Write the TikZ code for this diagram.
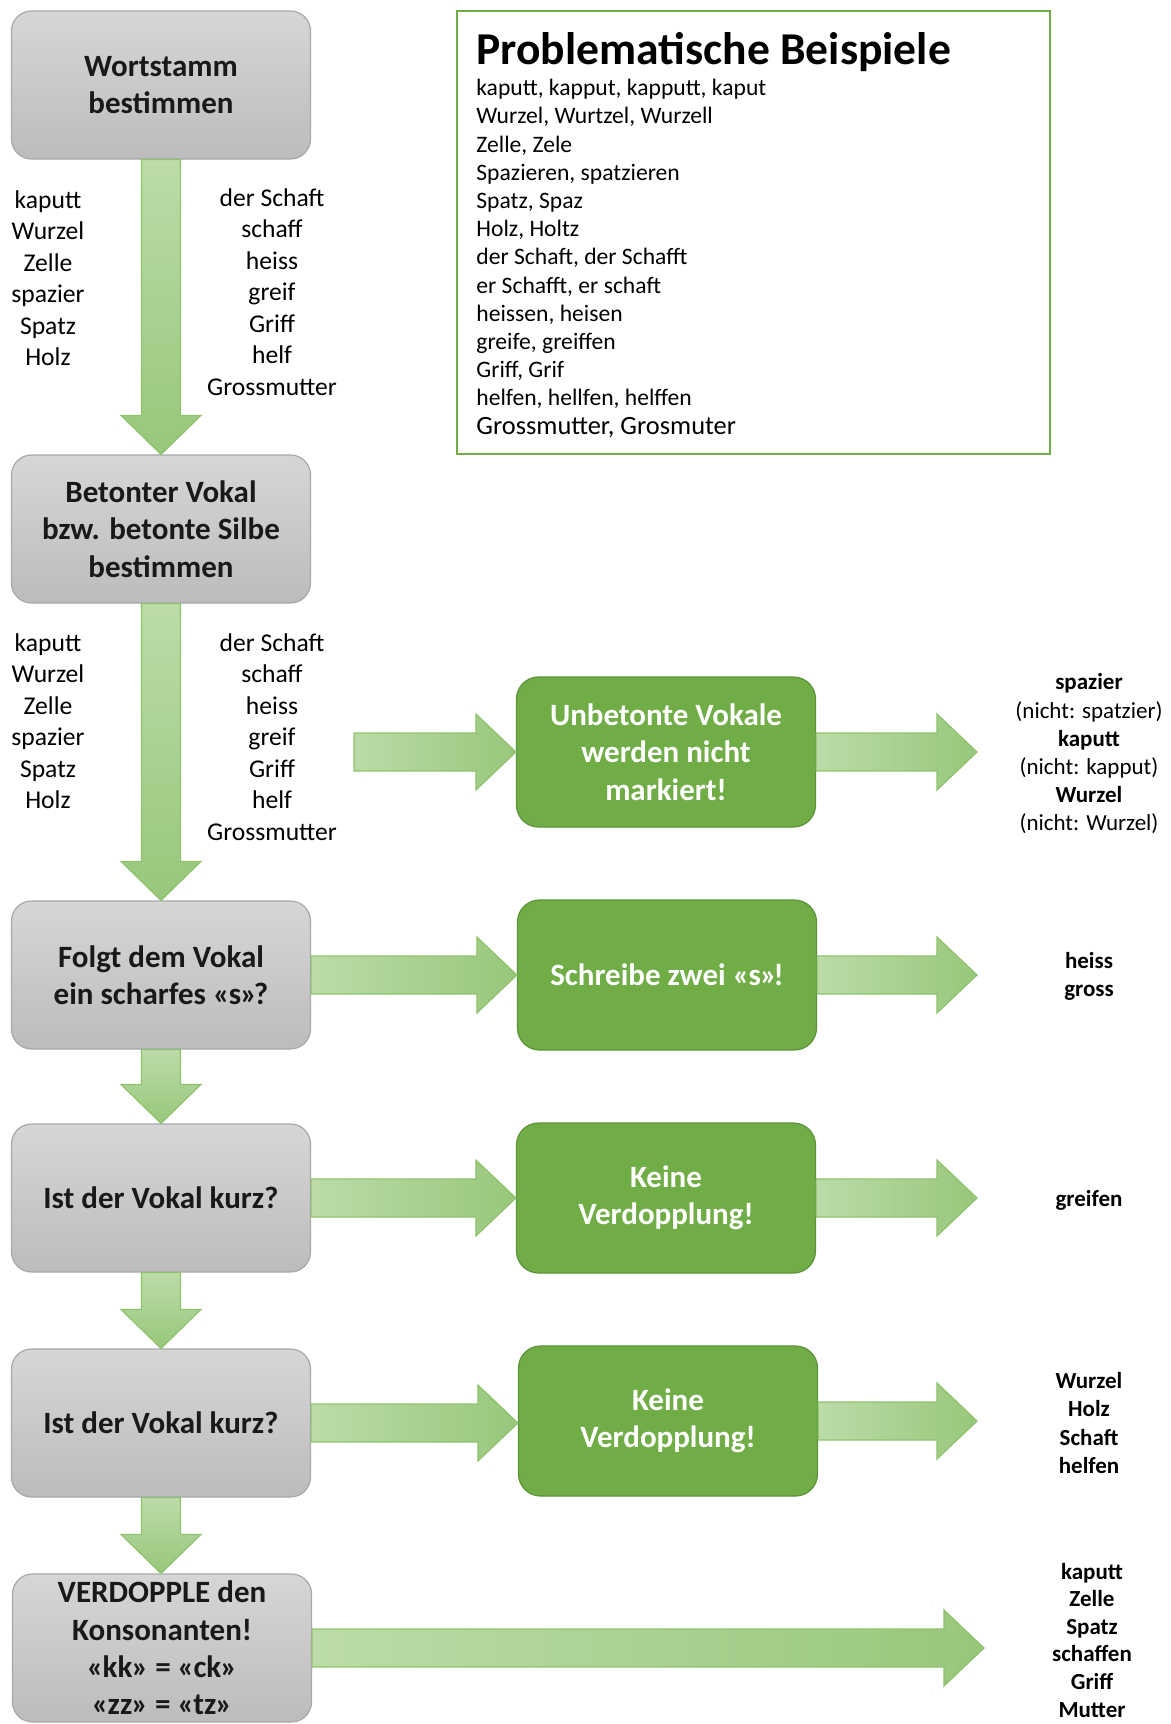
\documentclass[tikz,border=0pt]{standalone}
\usepackage{xcolor}
\usepackage{fontspec}
\setmainfont{Carlito}
\usepackage{tikz}
\usetikzlibrary{calc,positioning}

\definecolor{graytop}{HTML}{D6D6D6}
\definecolor{graybot}{HTML}{BCBCBC}
\definecolor{grayline}{HTML}{A8A8A8}
\definecolor{boxgreen}{HTML}{70AD47}
\definecolor{boxgreenline}{HTML}{5B9438}
\definecolor{arrlight}{HTML}{BCDBA8}
\definecolor{arrdark}{HTML}{98C77B}
\definecolor{arrline}{HTML}{8EC36D}

% block arrows between two points (horizontal / vertical)
\newcommand{\harrow}[2]{%
	\path[blockarrow, left color=arrlight, right color=arrdark] let \p1=(#1), \p2=(#2) in
		(\x1,\y1+9.5pt) -- (\x2-20pt,\y1+9.5pt) -- (\x2-20pt,\y1+19pt) -- (\x2,\y1)
		-- (\x2-20pt,\y1-19pt) -- (\x2-20pt,\y1-9.5pt) -- (\x1,\y1-9.5pt) -- cycle;}
\newcommand{\varrow}[2]{%
	\path[blockarrow, top color=arrlight, bottom color=arrdark] let \p1=(#1), \p2=(#2) in
		(\x1-9.75pt,\y1) -- (\x1-9.75pt,\y2+19.5pt) -- (\x1-20pt,\y2+19.5pt) -- (\x1,\y2)
		-- (\x1+20pt,\y2+19.5pt) -- (\x1+9.75pt,\y2+19.5pt) -- (\x1+9.75pt,\y1) -- cycle;}
% Guillemets etwas enger setzen
\newcommand{\guil}[1]{«\kern-.03em#1\kern-.03em»}

\begin{document}
\begin{tikzpicture}[
				x = 0.5pt, y = -0.5pt,
				every node/.style = {inner sep = 0pt},
				graybox/.style = {rectangle, rounded corners = 10pt, draw = grayline, line width = 0.6pt,
					top color = graytop, bottom color = graybot, minimum width = 149.5pt, minimum height = 74pt,
					align = center, text = black!90, font = \fontsize{15.5}{18.7}\selectfont\bfseries},
				greenbox/.style = {rectangle, rounded corners = 11pt, draw = boxgreenline, line width = 0.6pt,
					fill = boxgreen, minimum width = 149.5pt, minimum height = 75pt,
					align = center, text = white, font = \fontsize{15.5}{18.7}\selectfont\bfseries},
				wordcol/.style = {align = center, font = \fontsize{12.8}{15.75}\selectfont},
				result/.style = {align = center, font = \fontsize{11.5}{14.1}\selectfont},
				blockarrow/.style = {draw = arrline, line width = 0.6pt}
				]
				\useasboundingbox (0,0) rectangle (1171,1724);
				
				% linke Spalte
				\node [graybox] (wortstamm) at (161,85) {Wortstamm\\bestimmen};
				\node [graybox] (betont) at (161,529) {Betonter Vokal\\bzw. betonte Silbe\\bestimmen};
				\node [graybox] (scharf) at (161,975) {Folgt dem Vokal\\ein scharfes \guil{s}\kern-.1em?};
				\node [graybox] (kurzA) at (161,1198) {Ist der Vokal kurz?};
				\node [graybox] (kurzB) at (161,1423) {Ist der Vokal kurz?};
				\node [graybox] (verdopple) at (162,1648) {VERDOPPLE den\\Konsonanten!\\\guil{kk} = \guil{ck}\\\guil{zz} = \guil{tz}};
				
				% Beispielwoerter neben den Pfeilen
				\node [wordcol] (woerterA) at (48,278) {kaputt\\Wurzel\\Zelle\\spazier\\Spatz\\Holz};
				\node [wordcol] (woerterB) at (272,292) {der Schaft\\schaff\\heiss\\greif\\Griff\\helf\\Grossmutter};
				\node [wordcol] (woerterC) at (48,721) {kaputt\\Wurzel\\Zelle\\spazier\\Spatz\\Holz};
				\node [wordcol] (woerterD) at (272,737) {der Schaft\\schaff\\heiss\\greif\\Griff\\helf\\Grossmutter};
				
				% gruene Kaesten
				\node [greenbox] (unbetont) at (666,752) {Unbetonte Vokale\\werden nicht\\markiert!};
				\node [greenbox] (zweis) at (667,975) {Schreibe zwei \guil{s}\kern-.1em!};
				\node [greenbox] (keineA) at (666,1198) {Keine\\Verdopplung!};
				\node [greenbox] (keineB) at (668,1421) {Keine\\Verdopplung!};
				
				% Ergebnisse rechts
				\node [result] (resA) at (1089,754) {\textbf{spazier}\\(nicht: spatzier)\\\textbf{kaputt}\\(nicht: kapput)\\\textbf{Wurzel}\\(nicht: Wurzel)};
				\node [result, font = \fontsize{11.5}{14.1}\selectfont\bfseries] (resB) at (1089,976) {heiss\\gross};
				\node [result, font = \fontsize{11.5}{14.1}\selectfont\bfseries] (resC) at (1089,1200) {greifen};
				\node [result, font = \fontsize{11.5}{14.1}\selectfont\bfseries] (resD) at (1089,1423) {Wurzel\\Holz\\Schaft\\helfen};
				\node [result, font = \fontsize{11.5}{13.8}\selectfont\bfseries] (resE) at (1092,1640) {kaputt\\Zelle\\Spatz\\schaffen\\Griff\\Mutter};
				
				% Problematische Beispiele
				\node [draw = boxgreen, line width = 1pt, minimum width = 296.5pt, minimum height = 221.5pt] (beisp) at (753.5,232.5) {};
				\node [anchor = west, font = \fontsize{22.8}{26}\selectfont\bfseries] (titel) at (476,52) {Problematische Beispiele};
				\node [anchor = north west, align = left, font = \fontsize{11.8}{14.1}\selectfont] (liste) at (476,79) {kaputt, kapput, kapputt, kaput\\Wurzel, Wurtzel, Wurzell\\Zelle, Zele\\Spazieren, spatzieren\\Spatz, Spaz\\Holz, Holtz\\der Schaft, der Schafft\\er Schafft, er schaft\\heissen, heisen\\greife, greiffen\\Griff, Grif\\helfen, hellfen, helffen\\{\fontsize{13.2}{14.1}\selectfont Grossmutter, Grosmuter}};
				
				% Pfeile
				\coordinate (startB) at (354,752);
				\coordinate (endA) at (977,752);
				\coordinate (endB) at (977,975);
				\coordinate (endC) at (977,1198);
				\coordinate (endD) at (977,1421);
				\coordinate (endE) at (984,1647);
				
				\varrow{wortstamm.south}{betont.north}
				\varrow{betont.south}{scharf.north}
				\varrow{scharf.south}{kurzA.north}
				\varrow{kurzA.south}{kurzB.north}
				\varrow{kurzB.south}{verdopple.north}
				
				\harrow{startB}{unbetont.west}
				\harrow{scharf.east}{zweis.west}
				\harrow{kurzA.east}{keineA.west}
				\harrow{kurzB.east}{keineB.west}
				\harrow{verdopple.east}{endE}
				
				\harrow{unbetont.east}{endA}
				\harrow{zweis.east}{endB}
				\harrow{keineA.east}{endC}
				\harrow{keineB.east}{endD}
			\end{tikzpicture}
\end{document}
